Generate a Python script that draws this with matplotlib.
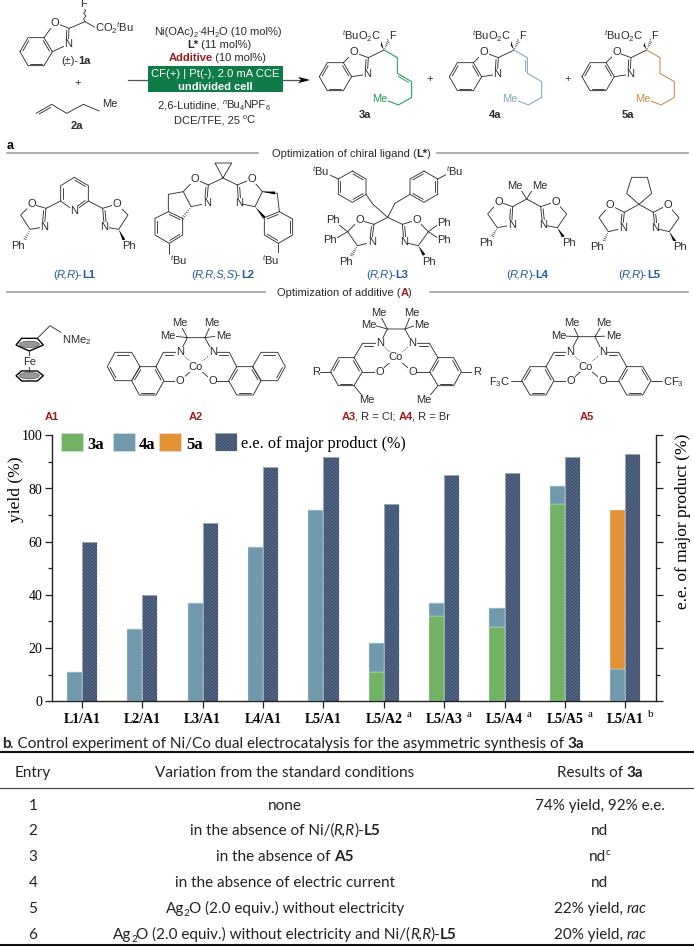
#!/usr/bin/env python

import matplotlib
matplotlib.use('Agg')
import matplotlib.pyplot as plt
from matplotlib.patches import Rectangle, Polygon, Ellipse

plt.rcParams['mathtext.fontset'] = 'custom'
plt.rcParams['mathtext.rm'] = 'Liberation Sans'
plt.rcParams['mathtext.it'] = 'Liberation Sans:italic'
plt.rcParams['mathtext.bf'] = 'Liberation Sans:bold'
plt.rcParams['mathtext.default'] = 'regular'
plt.rcParams['hatch.linewidth'] = 0.35

# chart data
categories = ['L1/A1', 'L2/A1', 'L3/A1', 'L4/A1', 'L5/A1',
              'L5/A2', 'L5/A3', 'L5/A4', 'L5/A5', 'L5/A1']
footnotes = ['', '', '', '', '', 'a', 'a', 'a', 'a', 'b']
yield_3a = [0, 0, 0, 0, 0, 11, 32, 28, 74, 0]
yield_4a = [11, 27, 37, 58, 72, 11, 5, 7, 7, 12]
yield_5a = [0, 0, 0, 0, 0, 0, 0, 0, 0, 60]
ee_major = [60, 40, 67, 88, 92, 74, 85, 86, 92, 93]

# table data
table_entries = ['1', '2', '3', '4', '5', '6']
table_variations = [
    [('none', '')],
    [('in the absence of Ni/(', ''), ('R,R', 'i'), (')-', ''), ('L5', 'b')],
    [('in the absence of ', ''), ('A5', 'b')],
    [('in the absence of electric current', '')],
    [('Ag', ''), ('2', 's'), ('O (2.0 equiv.) without electricity', '')],
    [('Ag', ''), ('2', 's'), ('O (2.0 equiv.) without electricity and Ni/(', ''),
     ('R,R', 'i'), (')-', ''), ('L5', 'b')],
]
table_results = [
    [('74% yield, 92% e.e.', '')],
    [('nd', '')],
    [('nd', ''), ('c', 'u')],
    [('nd', '')],
    [('22% yield, ', ''), ('rac', 'i')],
    [('20% yield, ', ''), ('rac', 'i')],
]

GREEN = '#71B263'
BLUE = '#7099AC'
ORANGE = '#E39335'
NAVY = '#566A88'
NAVY_DOT = '#3A4A66'
BAR_EDGE = '#D8E4EA'
INK = '#2A2A2A'
RED = '#9B1B1E'
LIG_BLUE = '#1F5C9E'
SANS = 'Liberation Sans'
SERIF = 'Liberation Serif'
TABLE = 'Lato'

fig = plt.figure(figsize=(6.94, 9.47), dpi=100)
rend = fig.canvas.get_renderer()

# ------------------------------------------------------------------------------
# bar chart
ax = fig.add_axes([52.3 / 694, 1 - 701.3 / 947, 603.4 / 694, 266 / 947])
positions = list(range(1, 11))
width = 0.25
left_x = [p - width / 2 for p in positions]
right_x = [p + width / 2 for p in positions]
bottom_4a = yield_3a
bottom_5a = [a + b for a, b in zip(yield_3a, yield_4a)]

ax.bar(left_x, yield_3a, width, color=GREEN, edgecolor=BAR_EDGE, linewidth=0.3)
ax.bar(left_x, yield_4a, width, bottom=bottom_4a, color=BLUE,
       edgecolor=BAR_EDGE, linewidth=0.3)
ax.bar(left_x, yield_5a, width, bottom=bottom_5a, color=ORANGE,
       edgecolor=BAR_EDGE, linewidth=0.3)
ax.bar(right_x, ee_major, width, color=NAVY, edgecolor=NAVY_DOT,
       hatch='xxxxxxxxxx', linewidth=0)
ax.bar(right_x, ee_major, width, fill=False, edgecolor=BAR_EDGE, linewidth=0.4)

ax.set_xlim(0.508, 10.504)
ax.set_ylim(0, 100)
ax.set_yticks(range(0, 101, 20))
ax.set_yticks(range(10, 100, 20), minor=True)
ax.set_xticks(positions)
ax.set_xticklabels(categories, family=SERIF, weight='bold', fontsize=10)
ax.tick_params(axis='x', length=5, width=0.9, pad=3.5, color='#222222')
ax.tick_params(axis='y', which='major', length=5, width=0.9, pad=2, labelsize=10,
               color='#222222')
ax.tick_params(axis='y', which='minor', length=2.6, width=0.9, color='#222222')
for lab in ax.get_yticklabels():
    lab.set_family(SERIF)
ax.spines['top'].set_visible(False)
ax.spines['right'].set_visible(False)
for s in ('left', 'bottom'):
    ax.spines[s].set_linewidth(1.0)
    ax.spines[s].set_color('#222222')
ax.set_ylabel('yield (%)', family=SERIF, fontsize=12.5)
ax.yaxis.set_label_coords(-0.047, 0.798)
for pos, note in zip(positions, footnotes):
    if note:
        ax.annotate(note, (pos, 0), xytext=(18, -9.6), textcoords='offset points',
                    family=SERIF, fontsize=8, ha='center', va='center',
                    annotation_clip=False)

ax2 = ax.twinx()
ax2.set_ylim(0, 100)
ax2.set_yticks(range(0, 101, 20))
ax2.set_yticks(range(10, 100, 20), minor=True)
ax2.set_yticklabels([])
ax2.tick_params(axis='y', which='major', length=5, width=0.9, color='#222222')
ax2.tick_params(axis='y', which='minor', length=2.6, width=0.9, color='#222222')
ax2.spines['top'].set_visible(False)
ax2.spines['left'].set_visible(False)
ax2.spines['bottom'].set_visible(False)
ax2.spines['right'].set_linewidth(1.0)
ax2.spines['right'].set_color('#222222')
ax2.set_ylabel('e.e. of major product (%)', family=SERIF, fontsize=12.5)
ax2.yaxis.set_label_coords(1.032, 0.675)

# ------------------------------------------------------------------------------
# overlay in picture pixels for the scheme, legend and table
ov = fig.add_axes([0, 0, 1, 1], zorder=5)
ov.set_xlim(0, 694)
ov.set_ylim(947, 0)
ov.axis('off')
ov.patch.set_alpha(0)


def text_w(s, **kw):
    t = ov.text(0, 0, '|' + s + '|', **kw)
    full = t.get_window_extent(rend).width
    t.set_text('||')
    bars = t.get_window_extent(rend).width
    t.remove()
    return full - bars


def rich(x, y, parts, size, family=SANS, color='black', ha='center'):
    """ one line of text made of runs: b bold, i italic, s subscript, u superscript """
    px = size * 100 / 72.
    runs = []
    total = 0.
    for part in parts:
        s, flags = part[0], part[1]
        c = part[2] if len(part) > 2 else color
        kw = {'family': family, 'color': c, 'va': 'baseline', 'ha': 'left',
              'fontsize': size, 'zorder': 8}
        shift = 0.
        if 'b' in flags:
            kw['weight'] = 'bold'
        if 'i' in flags:
            kw['style'] = 'italic'
        if 's' in flags:
            kw['fontsize'] = size * 0.66
            shift = 0.22 * px
        if 'u' in flags:
            kw['fontsize'] = size * 0.66
            shift = -0.38 * px
        w = text_w(s, **kw)
        runs.append((s, kw, shift, total))
        # runs sit a little apart otherwise, no kerning between them
        total += w - 0.03 * px
    total += 0.03 * px
    if ha == 'center':
        x -= total / 2.
    base = y + 0.36 * px
    for s, kw, shift, off in runs:
        ov.text(x + off, base + shift, s, **kw)


# molecule drawing, coordinates are zoomed crop units (1/3 pixel) from an origin
LW = 0.62


def P(o, p):
    return (o[0] + p[0] / 3., o[1] + p[1] / 3.)


def bond(o, pts, color=INK, lw=LW):
    xy = [P(o, p) for p in pts]
    ov.plot([q[0] for q in xy], [q[1] for q in xy], color=color, lw=lw,
            solid_capstyle='round', zorder=3)


def inner(o, a, b, toward, color=INK):
    ax_, ay = a
    bx, by = b
    dx, dy = bx - ax_, by - ay
    length = (dx ** 2 + dy ** 2) ** 0.5
    nx, ny = -dy / length, dx / length
    mx, my = (ax_ + bx) / 2., (ay + by) / 2.
    if nx * (toward[0] - mx) + ny * (toward[1] - my) < 0:
        nx, ny = -nx, -ny
    gap = 6.5
    a2 = (ax_ + dx * 0.13 + nx * gap, ay + dy * 0.13 + ny * gap)
    b2 = (bx - dx * 0.13 + nx * gap, by - dy * 0.13 + ny * gap)
    bond(o, [a2, b2], color=color)


def ring(o, pts, doubles=()):
    bond(o, list(pts) + [pts[0]])
    cx = sum(p[0] for p in pts) / float(len(pts))
    cy = sum(p[1] for p in pts) / float(len(pts))
    for i in doubles:
        inner(o, pts[i], pts[(i + 1) % len(pts)], (cx, cy))


def wedge(o, a, b, color='black'):
    p, q = P(o, a), P(o, b)
    dx, dy = q[0] - p[0], q[1] - p[1]
    length = (dx ** 2 + dy ** 2) ** 0.5
    nx, ny = -dy / length * 1.5, dx / length * 1.5
    ov.add_patch(Polygon([p, (q[0] + nx, q[1] + ny), (q[0] - nx, q[1] - ny)],
                         closed=True, fc=color, ec='none', zorder=4))


def hashed(o, a, b):
    p, q = P(o, a), P(o, b)
    dx, dy = q[0] - p[0], q[1] - p[1]
    length = (dx ** 2 + dy ** 2) ** 0.5
    nx, ny = -dy / length, dx / length
    steps = 6
    for i in range(1, steps + 1):
        f = i / float(steps)
        hw = 1.6 * f
        cx, cy = p[0] + dx * f, p[1] + dy * f
        ov.plot([cx - nx * hw, cx + nx * hw], [cy - ny * hw, cy + ny * hw],
                color=INK, lw=0.45, zorder=4)


def atom(o, p, s, ha='center', size=8, color=INK):
    x, y = P(o, p)
    ov.text(x, y, s, family=SANS, fontsize=size, color=color, ha=ha, va='center',
            zorder=7, bbox=dict(boxstyle='square,pad=0.04', fc='white', ec='none'))


def oxazoline(o, c2, ox, ch2, ch, n):
    bond(o, [c2, ox, ch2, ch, n])
    bond(o, [n, c2])
    inner(o, n, c2, (ox[0], (ox[1] + ch[1]) / 2.))
    atom(o, ox, 'O')
    atom(o, n, 'N')


def benzoxazole(o, dx, pts):
    """ pts are the pentagon atoms O, C2 and N of one drawing """
    hexagon = [(28 + dx, 155), (52 + dx, 113), (100 + dx, 113),
               (125 + dx, 155), (100 + dx, 197), (52 + dx, 197)]
    ring(o, hexagon, doubles=(0, 2, 4))
    bond(o, [hexagon[2], pts[0], pts[1], pts[2], hexagon[3]])
    inner(o, pts[1], pts[2], hexagon[2])
    atom(o, pts[0], 'O')
    atom(o, pts[2], 'N')


def lig_label(x, y, config, name):
    parts = [('(', ''), (config, 'i'), (')-', ''), (name, 'b')]
    rich(x, y, parts, 8, color=LIG_BLUE)


# ------------------------------------------------------------------------------
# reaction scheme
o0 = (0, 0)
benzoxazole(o0, 32, [(165, 68), (207, 85), (205, 133)])
bond(o0, [(207, 85), (255, 65), (285, 82)])
bond(o0, [(255, 65), (251, 56), (258, 48), (251, 40), (257, 32), (252, 24)])
atom(o0, (252, 12), 'F', size=8)
atom(o0, (286, 85), 'CO$_2$$^{\\mathit{t}}$Bu', ha='left')
rich(76, 60, [('(\u00b1)-', ''), ('1a', 'b')], 8, color=INK)
rich(78, 82, [('+', '')], 8, color=INK)
bond(o0, [(108, 340), (155, 313), (200, 340), (250, 313), (298, 333)])
inner(o0, (108, 340), (155, 313), (150, 345))
atom(o0, (306, 313), 'Me', ha='left')
rich(77, 125, [('2a', 'b')], 8, color=INK)

ov.plot([127.7, 300], [80, 80], color='#555555', lw=0.9, zorder=2)
ov.add_patch(Polygon([(310, 80), (298, 76.8), (301, 80), (298, 83.2)], closed=True,
                     fc='black', ec='none', zorder=3))
ov.add_patch(Rectangle((148.3, 65.7), 135, 26, fc='#0F7C47', ec='none', zorder=4))
rich(218, 31, [('Ni(OAc)', ''), ('2', 's'), ('\u00b74H', ''), ('2', 's'),
               ('O (10 mol%)', '')], 8, color=INK)
rich(219, 44, [('L*', 'b'), (' (11 mol%)', '')], 8, color=INK)
rich(217.5, 57, [('Additive', 'b', RED), (' (10 mol%)', '')], 8, color=INK)
rich(215.5, 73, [('CF(+) | Pt(-), 2.0 mA CCE', '')], 8.1, color='white')
rich(215.5, 85.5, [('undivided cell', 'b')], 8, color='white')
rich(214, 104, [('2,6-Lutidine, ', ''), ('n', 'ui'), ('Bu', ''), ('4', 's'),
                ('NPF', ''), ('6', 's')], 8, color=INK)
rich(214, 119, [('DCE/TFE, 25 ', ''), ('o', 'u'), ('C', '')], 8, color=INK)

o1 = (310, 25)
product_colors = ['#1E9B58', '#7FA8BC', '#C58A42']
product_names = ['3a', '4a', '5a']
product_dx = [0, 390, 788]
for k in range(3):
    d = product_dx[k]
    col = product_colors[k]
    benzoxazole(o1, d, [(132 + d, 82), (175 + d, 98), (172 + d, 148)])
    cf = (222 + d, 75)
    bond(o1, [(175 + d, 98), cf])
    wedge(o1, cf, (208 + d, 47))
    hashed(o1, cf, (236 + d, 46))
    atom(o1, (247 + d, 33), 'F')
    atom(o1, (95 + d, 35), '$^{\\mathit{t}}$BuO$_2$C', ha='left')
    chain = [cf, (262 + d, 98), (262 + d, 145), (305 + d, 170), (305 + d, 217),
             (265 + d, 240), (235 + d, 228)]
    bond(o1, chain, color=col, lw=0.75)
    if k == 0:
        inner(o1, (262 + d, 145), (305 + d, 170), (262 + d, 190), color=col)
    if k == 1:
        inner(o1, (262 + d, 98), (262 + d, 145), (220 + d, 120), color=col)
    atom(o1, (210 + d, 222), 'Me', color=col)
    rich(o1[0] + (165 + d) / 3., o1[1] + 268 / 3., [(product_names[k], 'b')], 8,
         color=INK)
rich(o1[0] + 358 / 3., o1[1] + 160 / 3., [('+', '')], 8, color=INK)
rich(o1[0] + 772 / 3., o1[1] + 160 / 3., [('+', '')], 8, color=INK)

# section rules
RULE = '#9A9A9A'
rich(10, 144, [('a', 'b')], 9, ha='center')
for x0, x1, y in [(7, 258, 152.7), (437, 688, 152.7), (7, 265, 291.7), (430, 688, 291.7)]:
    ov.plot([x0, x1], [y, y], color=RULE, lw=1.15, zorder=2)
rich(351, 153, [('Optimization of chiral ligand (', ''), ('L*', 'b'), (')', '')], 8, color=INK)
rich(344.5, 292, [('Optimization of additive (', ''), ('A', 'b', RED), (')', '')], 8, color=INK)

# ligands L1 and L2
o2 = (0, 165)
ring(o2, [(223, 37), (265, 62), (265, 108), (223, 138), (182, 108), (182, 62)],
     doubles=(0, 2, 4))
atom(o2, (223, 138), 'N')
bond(o2, [(182, 108), (138, 130)])
bond(o2, [(265, 108), (308, 130)])
oxazoline(o2, (138, 130), (95, 117), (62, 150), (90, 193), (133, 186))
oxazoline(o2, (308, 130), (351, 117), (384, 150), (356, 193), (313, 186))
hashed(o2, (90, 193), (72, 228))
wedge(o2, (356, 193), (372, 225))
atom(o2, (55, 242), 'Ph')
atom(o2, (388, 242), 'Ph')
lig_label(74, 273.5, 'R,R', 'L1')

bond(o2, [(669, 39), (645, -6), (695, -6), (669, 39)])
bond(o2, [(625, 60), (669, 39), (712, 60)])
oxazoline(o2, (625, 60), (585, 42), (550, 80), (573, 125), (620, 115))
oxazoline(o2, (712, 60), (755, 42), (787, 80), (765, 125), (716, 115))
ring(o2, [(505, 140), (548, 160), (548, 210), (508, 235), (465, 210), (465, 160)],
     doubles=(0, 2, 4))
ring(o2, [(838, 140), (878, 162), (878, 210), (835, 235), (793, 210), (793, 158)],
     doubles=(1, 3, 5))
bond(o2, [(550, 80), (505, 88), (505, 140)])
hashed(o2, (573, 125), (548, 160))
bond(o2, [(787, 80), (832, 85), (838, 140)])
wedge(o2, (787, 80), (825, 84))
wedge(o2, (765, 125), (793, 158))
bond(o2, [(508, 235), (508, 268)])
bond(o2, [(835, 235), (835, 268)])
atom(o2, (510, 285), '$^{\\mathit{t}}$Bu', ha='left')
atom(o2, (787, 285), '$^{\\mathit{t}}$Bu', ha='left')
lig_label(222.5, 273.5, 'R,R,S,S', 'L2')

# ligands L3, L4 and L5
o3 = (300, 165)
ring(o3, [(157, 18), (198, 42), (198, 88), (157, 112), (115, 88), (115, 42)],
     doubles=(0, 2, 4))
ring(o3, [(372, 18), (413, 42), (413, 88), (372, 112), (330, 88), (330, 42)],
     doubles=(1, 3, 5))
bond(o3, [(198, 88), (218, 117), (263, 157), (285, 115), (330, 88)])
bond(o3, [(115, 42), (85, 28)])
bond(o3, [(413, 42), (440, 28)])
atom(o3, (36, 18), '$^{\\mathit{t}}$Bu', ha='left')
atom(o3, (438, 18), '$^{\\mathit{t}}$Bu', ha='left')
bond(o3, [(222, 178), (263, 157), (307, 178)])
oxazoline(o3, (222, 178), (178, 165), (143, 200), (172, 242), (215, 232))
oxazoline(o3, (307, 178), (350, 165), (385, 200), (355, 242), (312, 232))
bond(o3, [(143, 200), (115, 178)])
bond(o3, [(143, 200), (108, 220)])
bond(o3, [(385, 200), (415, 178)])
bond(o3, [(385, 200), (415, 220)])
atom(o3, (100, 165), 'Ph')
atom(o3, (90, 225), 'Ph')
atom(o3, (433, 175), 'Ph')
atom(o3, (433, 225), 'Ph')
hashed(o3, (172, 242), (155, 272))
wedge(o3, (355, 242), (372, 270))
atom(o3, (138, 290), 'Ph')
atom(o3, (387, 290), 'Ph')
lig_label(387.5, 273.5, 'R,R', 'L3')

bond(o3, [(665, 78), (680, 102), (695, 78)])
bond(o3, [(638, 125), (680, 102), (722, 125)])
atom(o3, (645, 62), 'Me')
atom(o3, (718, 62), 'Me')
oxazoline(o3, (638, 125), (595, 110), (563, 147), (592, 188), (635, 180))
oxazoline(o3, (722, 125), (767, 110), (800, 147), (772, 188), (728, 180))
hashed(o3, (592, 188), (575, 218))
wedge(o3, (772, 188), (790, 216))
atom(o3, (558, 233), 'Ph')
atom(o3, (806, 233), 'Ph')
lig_label(527.5, 273.5, 'R,R', 'L4')

ring(o3, [(1017, 118), (980, 85), (995, 37), (1042, 37), (1055, 85)])
bond(o3, [(973, 142), (1017, 118), (1060, 142)])
oxazoline(o3, (973, 142), (930, 120), (897, 158), (925, 200), (968, 190))
oxazoline(o3, (1060, 142), (1103, 120), (1137, 158), (1108, 200), (1065, 190))
hashed(o3, (925, 200), (910, 232))
wedge(o3, (1108, 200), (1125, 230))
atom(o3, (892, 245), 'Ph')
atom(o3, (1140, 245), 'Ph')
lig_label(639, 273.5, 'R,R', 'L5')


# additives
def salen_core(o, n1, n2, co, o1_, o2_, c1, c2, up1, up2, s1, s2):
    bond(o, [n1, c1, c2, n2])
    bond(o, [c1, up1])
    bond(o, [c2, up2])
    bond(o, [c1, (s1[0] + 15, s1[1])])
    bond(o, [c2, (s2[0] - 15, s2[1])])
    bond(o, [o1_, co, o2_])
    for n in (n1, n2):
        xy = [P(o, n), P(o, co)]
        ov.plot([xy[0][0], xy[1][0]], [xy[0][1], xy[1][1]], color=INK, lw=0.5,
                linestyle=(0, (1.5, 1.5)), zorder=3)
    atom(o, up1, 'Me')
    atom(o, up2, 'Me')
    atom(o, s1, 'Me')
    atom(o, s2, 'Me')
    atom(o, n1, 'N')
    atom(o, n2, 'N')
    atom(o, co, 'Co')
    atom(o, o1_, 'O')
    atom(o, o2_, 'O')


o4 = (0, 335)
# A1 ferrocene
for top, pent in ((True, [(48, 30), (65, 10), (112, 10), (130, 30), (88, 48)]),
                  (False, [(48, 122), (65, 108), (112, 108), (130, 122), (112, 138), (65, 138)])):
    px_ = [P(o4, p) for p in pent]
    ov.add_patch(Polygon(px_, closed=True, fc='white', ec='black', lw=1.0, zorder=3))
    c = P(o4, (88, 28 if top else 122))
    ov.add_patch(Ellipse(c, 20, 6.5, fc='#999999', ec='#444444', lw=0.4, zorder=4))
bond(o4, [(112, 10), (150, -28), (183, -8)])
atom(o4, (186, 14), 'NMe$_2$', ha='left')
bond(o4, [(88, 48), (88, 68)])
bond(o4, [(88, 92), (88, 128)])
atom(o4, (88, 80), 'Fe')
rich(52, 416, [('A1', 'b', RED)], 8)

# A2
salen_core(o4, (540, 52), (638, 52), (588, 95), (540, 137), (637, 137),
           (562, 8), (615, 8), (538, -37), (635, -37), (503, 3), (670, 3))
ring(o4, [(468, 95), (492, 137), (468, 180), (418, 180), (395, 137), (420, 95)],
     doubles=(0, 2, 4))
ring(o4, [(420, 95), (395, 137), (345, 137), (322, 95), (345, 52), (395, 52)],
     doubles=(2, 4))
ring(o4, [(710, 95), (686, 137), (710, 180), (760, 180), (783, 137), (758, 95)],
     doubles=(0, 2, 4))
ring(o4, [(758, 95), (783, 137), (833, 137), (856, 95), (833, 52), (783, 52)],
     doubles=(2, 4))
bond(o4, [(540, 52), (490, 52), (468, 95)])
inner(o4, (525, 52), (490, 52), (500, 95))
bond(o4, [(638, 52), (688, 52), (710, 95)])
inner(o4, (653, 52), (688, 52), (680, 95))
bond(o4, [(492, 137), (540, 137)])
bond(o4, [(686, 137), (637, 137)])
rich(196, 416, [('A2', 'b', RED)], 8)

# A3 / A4
o5 = (300, 335)
salen_core(o5, (240, 25), (337, 25), (288, 67), (238, 110), (337, 110),
           (262, -18), (315, -18), (237, -66), (335, -66), (205, -30), (365, -30))
ring(o5, [(162, 68), (187, 110), (162, 152), (115, 152), (92, 110), (115, 68)],
     doubles=(0, 2, 4))
ring(o5, [(414, 68), (389, 110), (414, 152), (461, 152), (484, 110), (461, 68)],
     doubles=(0, 2, 4))
bond(o5, [(240, 25), (188, 25), (162, 68)])
inner(o5, (225, 25), (188, 25), (200, 68))
bond(o5, [(337, 25), (388, 25), (414, 68)])
inner(o5, (352, 25), (388, 25), (376, 68))
bond(o5, [(187, 110), (238, 110)])
bond(o5, [(389, 110), (337, 110)])
bond(o5, [(92, 110), (60, 110)])
bond(o5, [(484, 110), (518, 110)])
atom(o5, (47, 110), 'R')
atom(o5, (530, 110), 'R')
bond(o5, [(162, 152), (185, 180)])
bond(o5, [(414, 152), (391, 180)])
atom(o5, (200, 196), 'Me')
atom(o5, (370, 196), 'Me')
rich(396, 415.7, [('A3', 'b', RED), (', R = Cl; ', ''), ('A4', 'b', RED),
                  (', R = Br', '')], 8, color=INK)

# A5
salen_core(o5, (810, 52), (908, 52), (858, 95), (812, 137), (908, 137),
           (835, 5), (885, 5), (815, -37), (910, -37), (775, 3), (940, 3))
ring(o5, [(738, 95), (762, 137), (738, 180), (690, 180), (665, 137), (690, 95)],
     doubles=(0, 2, 4))
ring(o5, [(980, 95), (956, 137), (980, 180), (1028, 180), (1053, 137), (1028, 95)],
     doubles=(0, 2, 4))
bond(o5, [(810, 52), (762, 52), (738, 95)])
inner(o5, (795, 52), (762, 52), (775, 95))
bond(o5, [(908, 52), (956, 52), (980, 95)])
inner(o5, (923, 52), (956, 52), (945, 95))
bond(o5, [(762, 137), (812, 137)])
bond(o5, [(956, 137), (908, 137)])
bond(o5, [(665, 137), (632, 137)])
bond(o5, [(1053, 137), (1087, 137)])
atom(o5, (630, 140), 'F$_3$C', ha='right')
atom(o5, (1090, 140), 'CF$_3$', ha='left')
rich(586.5, 415.7, [('A5', 'b', RED)], 8)

# ------------------------------------------------------------------------------
# legend
legend_boxes = [(61.3, GREEN), (112.7, BLUE), (159.3, ORANGE)]
for x, col in legend_boxes:
    ov.add_patch(Rectangle((x, 432.7), 22, 18, fc=col, ec=BAR_EDGE, lw=0.4, zorder=4))
ov.add_patch(Rectangle((215, 432.7), 21.7, 18, fc=NAVY, ec=NAVY_DOT,
                       hatch='xxxxxxxxxx', lw=0, zorder=4))
ov.add_patch(Rectangle((215, 432.7), 21.7, 18, fill=False, ec=BAR_EDGE, lw=0.4, zorder=4))
for x, s in [(87.7, '3a'), (139, '4a'), (186, '5a')]:
    rich(x, 442.5, [(s, 'b')], 12, family=SERIF, ha='left')
rich(240.7, 442.5, [('e.e. of major product (%)', '')], 11.7, family=SERIF, ha='left')

# ------------------------------------------------------------------------------
# table
TEXT = '#222222'
TS = 11
rich(2, 742, [('b', 'b'), ('. Control experiment of Ni/Co dual electrocatalysis for the '
                           'asymmetric synthesis of ', ''), ('3a', 'b')],
     TS, family=TABLE, color=TEXT, ha='left')
ov.plot([0, 694], [751.7, 751.7], color='#111111', lw=1.5, zorder=2)
ov.plot([0, 694], [788, 788], color='#444444', lw=0.9, zorder=2)
ov.plot([0, 694], [945, 945], color='#111111', lw=1.5, zorder=2)
rich(33, 771, [('Entry', '')], TS, family=TABLE, color=TEXT)
rich(285, 771, [('Variation from the standard conditions', '')], TS, family=TABLE, color=TEXT)
rich(600, 771, [('Results of ', ''), ('3a', 'b')], TS, family=TABLE, color=TEXT)
row_y = [804, 829.5, 855.3, 881, 907, 933]
for y, entry, var, res in zip(row_y, table_entries, table_variations, table_results):
    rich(33, y, [(entry, '')], TS, family=TABLE, color=TEXT)
    rich(285, y, var, TS, family=TABLE, color=TEXT)
    rich(600, y, res, TS, family=TABLE, color=TEXT)

plt.savefig('out.png', dpi=100)
